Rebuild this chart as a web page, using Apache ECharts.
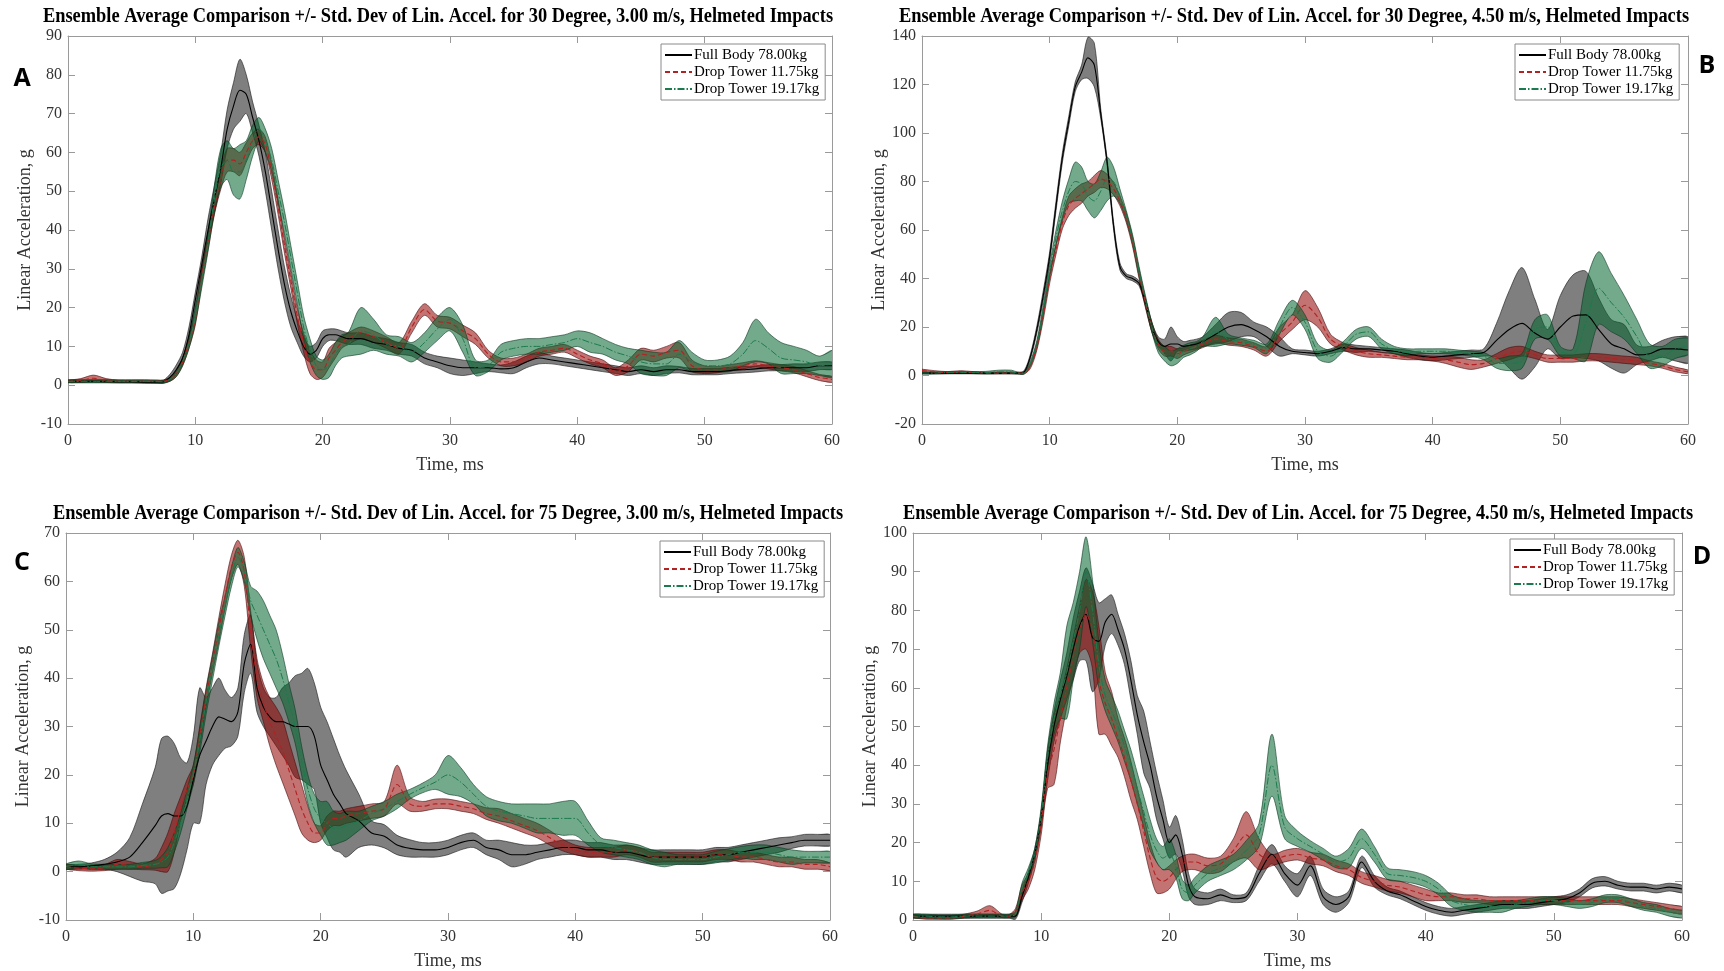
<!DOCTYPE html>
<html>
<head>
<meta charset="utf-8">
<title>Ensemble Average Comparison of Linear Acceleration</title>
<script src="https://cdn.jsdelivr.net/npm/echarts@6/dist/echarts.min.js"></script>
<style>
  html, body { margin: 0; padding: 0; background: #ffffff; }
  #chart { width: 1724px; height: 971px; }
</style>
</head>
<body>
<div id="chart"></div>
<script>
// Time base (ms) shared by every ensemble curve: 1 ms steps, 0.5 ms through the impact pulse
const T = [0, 1, 2, 3, 4, 5, 6, 7,
  7.5, 8, 8.5, 9, 9.5, 10, 10.5, 11, 11.5, 12, 12.5, 13, 13.5, 14, 14.5, 15, 15.5, 16, 16.5, 17, 17.5, 18, 18.5, 19, 19.5, 20, 20.5, 21, 21.5, 22,
  23, 24, 25, 26, 27, 28, 29, 30, 31, 32, 33, 34, 35, 36, 37, 38, 39, 40, 41, 42, 43, 44, 45, 46, 47, 48, 49, 50, 51, 52, 53, 54, 55, 56, 57, 58, 59, 60];

const SERIES_NAMES = ['Full Body 78.00kg', 'Drop Tower 11.75kg', 'Drop Tower 19.17kg'];
const X_TICKS = { min: 0, max: 60, step: 10 };

// ---- 30 Degree, 3.00 m/s : ensemble mean (g) and standard deviation (g) ----
const A_FB_M = [1.0, 1.0, 1.0, 1.0, 0.9, 0.9, 0.8, 0.8,
  0.9, 2, 4, 7, 13, 22, 31, 40, 48, 56, 66, 72, 76, 75, 69, 63, 55, 45, 35, 26, 19, 14, 10, 8, 9, 12, 13, 13, 12.5, 12,
  12, 11, 10.5, 9.5, 9, 7, 6, 5, 4.5, 4.5, 4.5, 4.2, 4.5, 6, 7, 6.5, 6, 5.5, 5, 4.5, 4, 3.5, 4, 3.5, 4, 4, 3.5, 3.5, 3.5, 3.8, 4, 4.2, 4.5, 4.5, 4.5, 4.5, 5, 5];
const A_FB_S = [0.3, 0.3, 0.3, 0.3, 0.3, 0.3, 0.3, 0.3,
  0.4, 0.8, 1.2, 1.5, 2, 2, 2, 3, 3.5, 4, 5, 6, 8, 5, 4, 4, 5, 5, 5, 4.5, 4, 3, 2.5, 2, 2, 2, 1.5, 1.5, 1.5, 1.5,
  1.5, 1.5, 1.5, 1.5, 1.5, 1.5, 1.5, 2, 2, 1.5, 1, 1, 1.5, 1.5, 1.5, 1, 1, 1, 1, 1, 1, 1, 1, 1, 1, 0.8, 0.8, 0.8, 0.8, 0.8, 0.8, 0.8, 0.8, 0.8, 1, 1, 1, 1];
const A_DT1_M = [1.0, 1.2, 1.8, 1.2, 1.0, 1.0, 1.0, 1.0,
  1.0, 1.5, 3, 6, 11, 17, 28, 37, 46, 53, 58, 58, 57, 60, 63, 64, 62, 55, 46, 36, 27, 18, 11, 6, 4, 4, 7, 9, 11, 12,
  13.5, 12.5, 11, 9.5, 15, 19.5, 16.5, 16, 14, 12, 8, 6, 6, 7, 8.5, 9, 9.5, 8, 6.5, 5.5, 3.5, 5, 8, 7.5, 8.5, 9, 5, 4, 4, 4.5, 5, 5.5, 5, 4.5, 4, 3, 2, 1.5];
const A_DT1_S = [0.3, 0.5, 0.8, 0.5, 0.3, 0.3, 0.3, 0.3,
  0.3, 0.5, 0.8, 1, 1.5, 1.5, 2, 2, 2, 2.5, 3, 3, 3, 2.5, 2, 2, 2, 2, 2, 2, 2, 2, 2.5, 3, 2.5, 2, 2.5, 2, 1.5, 1.5,
  1.5, 1.5, 1.5, 1.5, 1.5, 1.5, 1.5, 1.5, 1.5, 1.5, 1, 1, 1, 1, 1, 1, 1, 1, 1, 1, 1, 1.5, 1.5, 1.5, 1.5, 2, 1.5, 1, 0.8, 0.8, 0.8, 0.8, 0.8, 0.8, 0.8, 0.8, 0.8, 0.8];
const A_DT2_M = [1.0, 1.0, 1.0, 1.0, 1.0, 1.0, 1.0, 0.9,
  0.9, 1.5, 3, 6, 11, 18, 27, 37, 48, 56, 58, 55, 55, 58, 63, 66, 63, 58, 50, 42, 33, 24, 15, 9, 5, 4, 5, 8, 10, 10.5,
  14, 13, 10.5, 10, 8.5, 11, 14.5, 17, 12, 4.5, 5, 8.5, 9.5, 10, 10, 10.5, 11, 12, 11, 10, 8.5, 7.5, 6, 5.5, 5.5, 8, 6, 5, 5, 5.5, 8, 11.5, 9.5, 7, 6.5, 6, 5, 5.5];
const A_DT2_S = [0.4, 0.4, 0.4, 0.4, 0.4, 0.4, 0.4, 0.4,
  0.4, 0.5, 0.8, 1, 1.5, 2, 2, 2.5, 3.5, 5, 5, 6, 7, 5, 4, 3, 3, 3, 3, 3, 3, 3, 3, 3, 2.5, 2.5, 3, 3, 3, 3,
  6, 4, 2.5, 2.5, 2.5, 2.5, 3, 3, 3.5, 2, 1.5, 2, 2, 2, 2, 2, 2, 2, 2.5, 2, 2, 2, 3, 3, 3, 3.5, 2.5, 1.5, 1.5, 2, 3, 5.5, 4, 4, 3.5, 3, 2.5, 3.5];

// ---- 30 Degree, 4.50 m/s ----
const B_FB_M = [1, 1, 1, 1, 1, 1, 1, 1,
  1, 1.5, 8, 19, 33, 49, 70, 90, 105, 119, 125, 131, 128, 108, 88, 62, 45, 41, 40, 38, 30, 20, 14, 12, 13, 13, 12, 12.5, 13, 14,
  17, 20, 21, 19, 16, 12, 10, 9.5, 9, 10, 11.5, 11, 11, 10.5, 10, 9, 8, 7.5, 8, 8.5, 9, 9.5, 14.5, 19, 21.5, 17.5, 15, 20, 24.5, 25, 19, 13, 11, 8.5, 9, 11, 11, 10.5];
const B_FB_S = [0.3, 0.3, 0.3, 0.3, 0.3, 0.3, 0.3, 0.3,
  0.3, 0.5, 1, 1.5, 2, 2, 2, 2, 2, 2, 3, 8.5, 9, 2, 1.5, 1.5, 1.5, 1, 1, 1, 1.5, 2, 2, 3, 7, 3, 2, 2, 2, 2,
  4, 6, 5, 3, 4, 4, 1, 1, 1, 1, 1.5, 1.5, 1, 1, 1, 1.5, 1.5, 1.5, 1.5, 1.5, 1.5, 1.5, 7, 16, 23, 14, 4, 13, 17, 18, 13, 10, 10, 4, 3, 3.5, 5, 5.5];
const B_DT1_M = [2.0, 1.5, 1.2, 1.5, 1.2, 1.0, 1.0, 1.0,
  1, 1, 4, 12, 25, 40, 52, 63, 70, 73, 75, 77, 79, 81, 80, 77, 72, 65, 55, 42, 30, 20, 13, 10, 10, 9, 10, 11, 12, 13,
  15, 14, 13.5, 12, 10, 17, 22, 29, 24, 15, 12, 10, 9, 8.5, 8, 7.5, 7.5, 7, 6.5, 5.5, 4.5, 5, 7, 9, 10, 8.5, 7, 7, 7, 7.5, 7.5, 7, 6.5, 6, 5, 4, 2.5, 1.5];
const B_DT1_S = [0.6, 0.5, 0.4, 0.5, 0.4, 0.3, 0.3, 0.3,
  0.3, 0.4, 1, 1.5, 2, 2, 2, 2.5, 4, 4, 4, 3, 3.5, 3.5, 3, 2.5, 2, 2, 2, 2, 2, 2, 2, 2, 2, 2, 1.5, 1.5, 1.5, 1.5,
  1.5, 1.5, 1.5, 1.5, 2, 3, 3, 6, 4, 2, 1.5, 1.5, 1.5, 1, 1, 1, 1, 1, 1.5, 2, 2, 1.5, 2, 2.5, 2, 1.5, 1.5, 1.5, 1.5, 1.5, 1.5, 1.5, 1.5, 1.5, 1, 1, 1, 0.8];
const B_DT2_M = [1.0, 1.0, 1.2, 1.2, 1.2, 1.2, 1.5, 1.5,
  1, 1, 5, 13, 27, 43, 57, 68, 76, 80, 79, 74, 72, 76, 81, 80, 74, 66, 56, 43, 31, 20, 12, 9, 7, 8, 10, 11, 12, 14,
  18, 15, 14, 13, 11, 20, 28, 22, 10, 8, 12, 17, 18, 13, 10.5, 9.5, 10, 10, 10, 9.5, 9, 8, 5, 5, 6, 19, 20, 10, 9, 22, 36, 30, 24, 16, 8, 8, 11, 12];
const B_DT2_S = [0.4, 0.4, 0.4, 0.4, 0.4, 0.5, 0.7, 0.7,
  0.4, 0.4, 1, 1.5, 2, 2.5, 3, 4, 5, 8, 7, 6, 7, 8, 9, 6, 3, 2, 2, 2, 2, 2, 2.5, 3, 3, 3, 2.5, 2.5, 2, 2,
  6, 2, 1.5, 1.5, 2, 3, 3, 3, 3, 2.5, 2, 2, 2, 2, 1.5, 1.5, 1, 1, 1, 1, 1, 1.5, 2, 3, 3, 4, 5, 2, 2, 16, 15, 12, 9, 7, 5, 4, 4, 3.5];

// ---- 75 Degree, 3.00 m/s ----
const C_FB_M = [1, 1, 1.2, 1.5, 2, 3, 6, 9.5,
  11.5, 12, 11.5, 11.5, 13.5, 19, 24, 27, 30, 32, 31.5, 31, 33, 43, 47, 38, 34, 32, 31, 31, 30.5, 30, 30, 30, 28, 22, 19, 16, 14, 12,
  10.5, 8, 7.3, 5.5, 4.8, 4.5, 4.5, 5, 6, 6.5, 5, 4.5, 3.5, 3.5, 4, 4.5, 5, 5, 4.5, 4.5, 4, 4, 3.5, 3, 3, 3, 3, 3, 3.5, 3.5, 4, 4.5, 5, 5.5, 6, 6.5, 6.5, 6.5];
const C_FB_S = [0.5, 0.5, 0.6, 1, 2, 4, 8, 12,
  16, 16, 15, 12, 9, 9, 14, 9, 8, 8, 6, 5, 5, 6, 6, 5, 4, 4, 5, 7, 8.5, 10.5, 11, 12, 11, 12, 12, 11.5, 10, 9,
  5.5, 2.5, 2.4, 2, 1.8, 1.5, 1.5, 1.5, 1.5, 1.5, 1.5, 2, 2.5, 2,
  1.5, 1.5, 1.5, 1.5, 1.5, 1.5, 1.5, 1.5, 1.5, 1.5, 1.5, 1.5, 1.5, 1.5, 1.5, 1.5, 1.5, 1.5, 1.5, 1.5,
  1.2, 1.2, 1.2, 1.2];
const C_DT1_M = [1, 0.7, 0.6, 0.8, 1.5, 1.3, 1, 1.5,
  2.5, 4, 8, 13, 17, 20, 28, 36, 43, 50, 57, 63, 66, 62, 50, 40, 35, 31, 28, 25, 21, 17, 13, 10, 8, 8, 10, 11, 11, 11.5,
  12, 12.5, 13, 18, 14, 13.5, 14, 14, 13.5, 13, 12, 11.5, 10.5, 9.5, 8.5, 7, 5.5, 4.5, 4, 4, 4, 4.5, 4, 3, 3, 3, 3, 3, 3.5, 3.5, 3, 3, 2.5, 2, 2, 1.5, 1.5, 1];
const C_DT1_S = [0.5, 0.5, 0.5, 0.6, 1, 0.8, 0.6, 1.2,
  2.5, 4, 4, 2.5, 2, 2, 2, 2, 2, 2.5, 2.5, 2.5, 2.5, 3, 4, 4, 4, 5, 6, 6.5, 6, 5.5, 5, 3.5, 2, 1.5, 1.5, 1.5, 1.5, 1.5,
  1.5, 1.5, 1.5, 4, 1.5, 1, 1, 1, 1, 1, 1.2, 1.5, 1.5, 1.5, 1.5, 1.5, 1.2,
  1, 1, 1, 1, 1, 1, 1, 1, 1, 1, 1, 1, 1, 1, 1, 1, 1, 1, 1, 1,
  0.8];
const C_DT2_M = [1, 1.5, 1, 1, 1, 1, 1.3, 1.5,
  2, 3, 6, 10, 15, 20, 27, 35, 42, 49, 55, 61, 65, 62, 56, 53, 50, 47, 44, 40, 35, 30, 23, 17, 13, 11, 10, 9, 9, 9.5,
  10.5, 12, 13, 14.5, 16, 17.3, 18.5, 20, 18.5, 16, 13.5, 12.5, 12, 11.5, 11, 11, 11, 11, 8, 5.5, 5, 4.5, 4, 3, 2.5, 2.5, 2.5, 2.5, 3, 3.5, 4, 4, 4, 3.5, 3, 3, 3, 3];
const C_DT2_S = [0.6, 0.7, 0.6, 0.5, 0.5, 0.5, 0.6, 0.8,
  1.2, 2, 2, 2, 2, 2, 2.5, 2.5, 2.5, 2.5, 2, 2, 2, 2, 3, 5, 6, 6, 6, 5, 4, 3.5, 3, 3, 3, 3.5, 4.5, 3.5, 3, 3,
  2, 1.5, 1.5, 1.5, 1, 1, 1.5, 4, 3, 2, 2, 2, 2, 2.5, 3, 3, 3.5, 3.5, 2.5, 1.5, 1.5, 1.5, 1.5, 1.5, 1.5, 1, 1, 1, 1.2, 1.2, 1.2, 1.5, 1.5, 1.5, 1.5, 1.2, 1.2, 1.2];

// ---- 75 Degree, 4.50 m/s ----
const D_FB_M = [1, 1, 1, 1, 1, 1, 1, 1,
  1, 1, 6, 11, 17, 26, 40, 50, 57, 63, 70, 76, 79, 73, 72, 77, 79, 75, 70, 62, 53, 46, 40, 32, 26, 20, 22, 17, 9, 6,
  5.5, 6.5, 5.5, 6, 12, 17, 12, 9, 14, 6, 4, 6, 15, 10, 7.5, 6.5, 5, 3.5, 2.5, 2, 2.5, 3, 3.5, 4, 4, 4, 4.5, 5, 5.5, 7, 9.5, 10, 9, 8.5, 8.5, 8, 8.5, 8];
const D_FB_S = [0.5, 0.5, 0.5, 0.5, 0.5, 0.5, 0.5, 0.5,
  0.5, 0.8, 1.5, 1.5, 1.5, 2, 4, 4, 5, 6, 8, 9, 12, 14, 10, 6, 5, 4, 4, 5, 5, 8, 6, 6, 5, 4, 5, 4, 3, 2,
  1.5, 1.5, 1, 1, 2, 2.5, 2, 3, 2.5, 2, 2, 1.5, 1.5, 1.5,
  1, 1, 1, 1, 1, 1, 1, 1, 1, 1, 1, 1, 1, 1, 1, 1,
  1.2, 1.2, 1, 1, 1, 1, 1, 1];
const D_DT1_M = [1, 0.5, 0.5, 0.5, 1, 1.5, 2.5, 1,
  1, 2, 7, 10, 15, 25, 38, 44, 52, 60, 68, 75, 79, 75, 62, 56, 52, 47, 42, 36, 30, 23, 16, 11, 10, 11, 13, 14.5, 15, 15,
  14, 14.5, 18, 22, 17, 15.5, 16.5, 17, 16, 15.5, 14, 13, 11, 10, 9, 8.5, 7.5, 6.5, 6, 6, 5.5, 5.5, 5, 5, 5, 5, 5, 5, 5, 5, 5, 5, 5, 4.5, 4, 3.5, 3, 2.5];
const D_DT1_S = [0.4, 0.3, 0.3, 0.3, 0.5, 0.8, 1.2, 0.4,
  0.4, 1, 2, 2, 2, 3, 4, 9, 6, 5, 5, 6, 9, 10, 14, 8, 7, 5, 5, 5, 4, 4, 4, 4, 3, 3, 2.5, 2, 2, 2,
  2, 2, 3, 6, 4,
  1.5, 1.5, 1.5, 1.5, 1.5, 1.5, 1.5, 1.5, 1.5, 1.5, 1.5, 1.5, 1.5,
  1, 1, 1, 1, 1, 1, 1, 1, 1, 1, 1, 1, 1, 1, 1, 1, 1, 1, 1, 1];
const D_DT2_M = [1, 1, 0.8, 0.8, 1, 1, 1, 1,
  1, 1.5, 8, 12, 17, 27, 42, 52, 58, 64, 72, 80, 90, 80, 66, 58, 54, 50, 45, 40, 34, 28, 22, 18, 16, 17, 14, 8, 7, 9,
  12, 13.5, 15, 18, 22, 40, 24, 21, 19, 17, 15, 16, 21, 17, 12, 11.5, 11, 10, 8, 5, 4, 3.5, 3.5, 3.5, 4, 4.5, 5, 5, 4.5, 4, 4.5, 5.5, 5.5, 4.5, 3.5, 3, 2, 1.5];
const D_DT2_S = [0.5, 0.5, 0.5, 0.5, 0.5, 0.5, 0.5, 0.5,
  0.5, 0.8, 1.5, 1.5, 1.5, 2, 3, 4, 6, 12, 10, 10, 9, 8, 6, 4, 4, 4, 4, 4, 4, 4, 4, 3, 3, 4, 3, 2.5, 2, 2,
  2, 2, 2, 2.5, 3, 8, 3, 2, 1.5, 1.5, 1.5, 2.5, 2.5, 2,
  1.5, 1.5, 1.5, 1.5, 1.5, 1.5, 1.5, 1.5, 1.5, 1.5,
  1, 1, 1, 1, 1, 1, 1, 1, 1, 1, 1, 1, 1, 1];

// ---- layout and styling ----
const SERIF = '"Liberation Serif", "Times New Roman", serif';
const BOX = '#9a9a9a';
const SMOOTH = 0.3;
const STYLES = [
  { line: '#000000', type: 'solid', width: 1.1, fill: 'rgba(0,0,0,0.5)', edge: 'rgba(20,20,20,0.85)' },
  { line: '#b22222', type: [5, 3], width: 1.1, fill: 'rgba(148,0,0,0.55)', edge: 'rgba(70,10,10,0.85)' },
  { line: '#1b7a4e', type: [7, 2, 1.5, 2], width: 1.0, fill: 'rgba(0,100,46,0.55)', edge: 'rgba(10,55,32,0.85)' }
];

const PANELS = [
  { title: 'Ensemble Average Comparison +/- Std. Dev of Lin. Accel. for 30 Degree, 3.00 m/s, Helmeted Impacts',
    tag: 'A', tagAt: [22, 79], titleAt: [438, 17],
    grid: { left: 68, top: 36, width: 764, height: 388 }, y: [-10, 90, 10], legendAt: [661, 44],
    curves: [[A_FB_M, A_FB_S], [A_DT1_M, A_DT1_S], [A_DT2_M, A_DT2_S]] },
  { title: 'Ensemble Average Comparison +/- Std. Dev of Lin. Accel. for 30 Degree, 4.50 m/s, Helmeted Impacts',
    tag: 'B', tagAt: [1707, 66], titleAt: [1294, 17],
    grid: { left: 922, top: 36, width: 766, height: 388 }, y: [-20, 140, 20], legendAt: [1515, 44],
    curves: [[B_FB_M, B_FB_S], [B_DT1_M, B_DT1_S], [B_DT2_M, B_DT2_S]] },
  { title: 'Ensemble Average Comparison +/- Std. Dev of Lin. Accel. for 75 Degree, 3.00 m/s, Helmeted Impacts',
    tag: 'C', tagAt: [22, 563], titleAt: [448, 514],
    grid: { left: 66, top: 533, width: 764, height: 389 }, y: [-10, 70, 10], legendAt: [660, 541],
    curves: [[C_FB_M, C_FB_S], [C_DT1_M, C_DT1_S], [C_DT2_M, C_DT2_S]] },
  { title: 'Ensemble Average Comparison +/- Std. Dev of Lin. Accel. for 75 Degree, 4.50 m/s, Helmeted Impacts',
    tag: 'D', tagAt: [1702, 557], titleAt: [1298, 514],
    grid: { left: 913, top: 533, width: 769, height: 389 }, y: [0, 100, 10], legendAt: [1510, 539],
    curves: [[D_FB_M, D_FB_S], [D_DT1_M, D_DT1_S], [D_DT2_M, D_DT2_S]] }
];

const pairs = arr => T.map((t, i) => [t, arr[i]]);

// Mean +/- one standard deviation band, drawn as one filled outline through the axis scales
function bandSeries(id, xi, yi, m, s, st) {
  const rows = T.map((t, i) => [t, m[i] - s[i], m[i] + s[i]]);
  return {
    type: 'custom', name: id, xAxisIndex: xi, yAxisIndex: yi,
    data: rows, encode: { x: 0, y: [1, 2] },
    clip: true, silent: true, z: 2,
    renderItem(params, api) {
      if (params.dataIndex !== 0) return null;
      const upper = rows.map(r => api.coord([r[0], r[2]]));
      const lower = rows.map(r => api.coord([r[0], r[1]]));
      const outline = upper.concat(lower.slice().reverse());
      return {
        type: 'group',
        children: [
          { type: 'polygon', shape: { points: outline, smooth: SMOOTH },
            style: { fill: st.fill, stroke: null } },
          { type: 'polyline', shape: { points: upper, smooth: SMOOTH },
            style: { stroke: st.edge, lineWidth: 0.7, fill: null } },
          { type: 'polyline', shape: { points: lower, smooth: SMOOTH },
            style: { stroke: st.edge, lineWidth: 0.7, fill: null } }
        ]
      };
    }
  };
}

const grids = [], xAxes = [], yAxes = [], series = [], legends = [], graphics = [];

PANELS.forEach((p, k) => {
  grids.push(Object.assign({ containLabel: false }, p.grid));

  const tickCommon = { show: true, inside: true, length: 7, lineStyle: { color: BOX, width: 1 } };
  const lineCommon = { show: true, onZero: false, lineStyle: { color: BOX, width: 1 } };

  xAxes.push({
    gridIndex: k, type: 'value', position: 'bottom',
    min: X_TICKS.min, max: X_TICKS.max, interval: X_TICKS.step,
    axisLine: lineCommon, axisTick: tickCommon, splitLine: { show: false },
    axisLabel: { color: '#333', fontFamily: SERIF, fontSize: 16, margin: 9 },
    name: 'Time, ms', nameLocation: 'middle', nameGap: 32,
    nameTextStyle: { color: '#333', fontFamily: SERIF, fontSize: 18 }
  });
  xAxes.push({
    gridIndex: k, type: 'value', position: 'top',
    min: X_TICKS.min, max: X_TICKS.max, interval: X_TICKS.step,
    axisLine: lineCommon, axisTick: tickCommon, axisLabel: { show: false }, splitLine: { show: false }
  });
  yAxes.push({
    gridIndex: k, type: 'value', position: 'left',
    min: p.y[0], max: p.y[1], interval: p.y[2],
    axisLine: lineCommon, axisTick: tickCommon, splitLine: { show: false },
    axisLabel: { color: '#333', fontFamily: SERIF, fontSize: 16, margin: 6 },
    name: 'Linear Acceleration, g', nameLocation: 'middle', nameGap: 34,
    nameTextStyle: { color: '#333', fontFamily: SERIF, fontSize: 18 }
  });
  yAxes.push({
    gridIndex: k, type: 'value', position: 'right',
    min: p.y[0], max: p.y[1], interval: p.y[2],
    axisLine: lineCommon, axisTick: tickCommon, axisLabel: { show: false }, splitLine: { show: false }
  });

  const xi = 2 * k, yi = 2 * k;

  p.curves.forEach(([m, s], j) => {
    series.push(bandSeries('band-' + k + '-' + j, xi, yi, m, s, STYLES[j]));
  });

  // ensemble means
  p.curves.forEach(([m], j) => {
    const st = STYLES[j];
    series.push({
      type: 'line', name: SERIES_NAMES[j], xAxisIndex: xi, yAxisIndex: yi,
      data: pairs(m), symbol: 'none', smooth: SMOOTH, silent: true, z: 3,
      itemStyle: { color: st.line },
      lineStyle: { color: st.line, width: st.width, type: st.type }
    });
  });

  legends.push({
    left: p.legendAt[0], top: p.legendAt[1], orient: 'vertical',
    data: SERIES_NAMES, selectedMode: false,
    itemWidth: 27, itemHeight: 10, itemGap: 1,
    padding: [3, 6, 3, 3],
    itemStyle: { opacity: 0, borderWidth: 0 },
    backgroundColor: '#ffffff', borderColor: '#8a8a8a', borderWidth: 1, borderRadius: 0,
    textStyle: { color: '#000', fontFamily: SERIF, fontSize: 15, lineHeight: 16, padding: [0, 0, 0, -3] }
  });

  graphics.push({
    type: 'text', x: p.titleAt[0], y: p.titleAt[1], scaleX: 0.92, silent: true,
    style: { text: p.title, align: 'center', verticalAlign: 'middle',
      font: 'bold 20px "Liberation Serif", "Times New Roman", serif', fill: '#000' }
  });
  graphics.push({
    type: 'text', x: p.tagAt[0], y: p.tagAt[1], silent: true,
    style: { text: p.tag, align: 'center', verticalAlign: 'middle',
      font: 'bold 25px "Open Sans", Lato, sans-serif', fill: '#000' }
  });
});

const chart = echarts.init(document.getElementById('chart'), null, { renderer: 'canvas' });
chart.setOption({
  animation: false,
  backgroundColor: '#ffffff',
  grid: grids,
  xAxis: xAxes,
  yAxis: yAxes,
  legend: legends,
  series: series,
  graphic: graphics
});
</script>
</body>
</html>
